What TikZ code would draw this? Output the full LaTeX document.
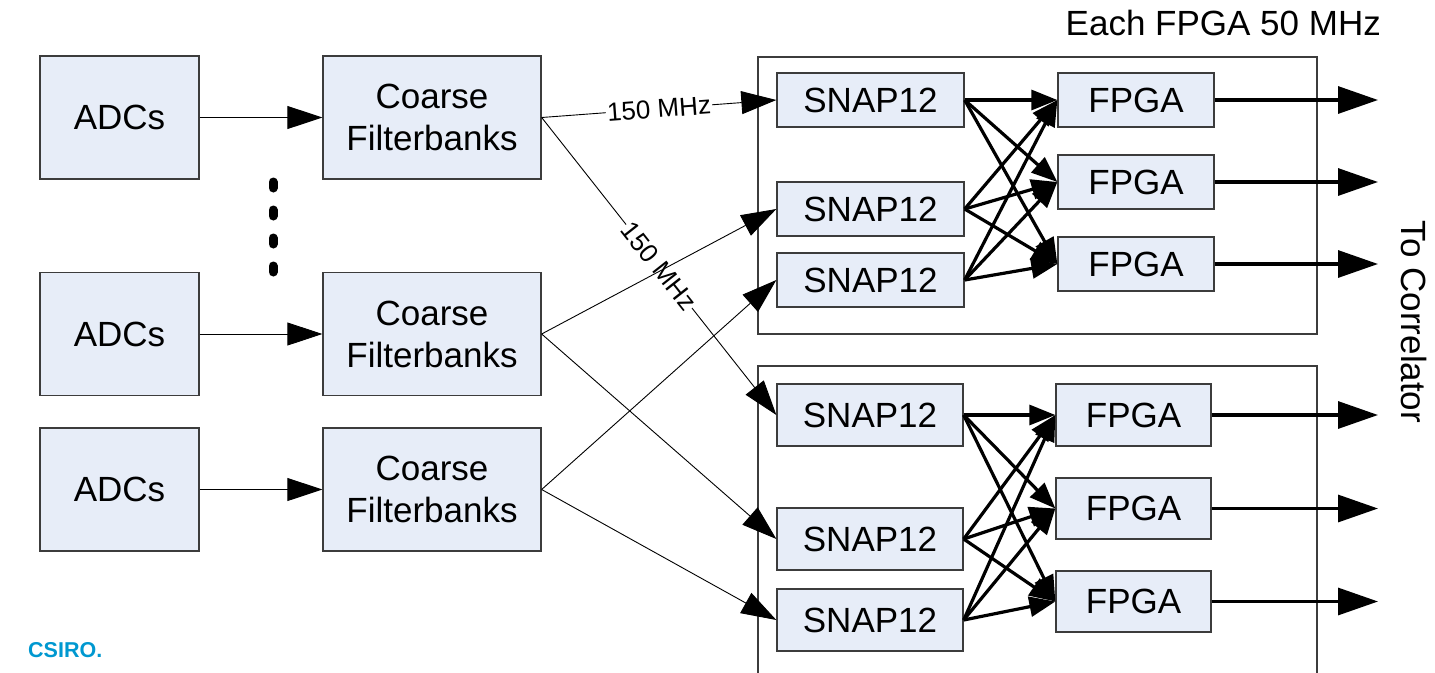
\documentclass[tikz,border=0pt]{standalone}
\usepackage{fontspec}
\setmainfont{Liberation Sans}
\usetikzlibrary{arrows.meta}
\definecolor{boxfill}{RGB}{231,237,248}
\definecolor{boxline}{RGB}{60,60,60}
\definecolor{csiro}{RGB}{0,152,208}
\tikzset{
  blk/.style={draw=boxline, line width=1.3pt, fill=boxfill, align=center, inner sep=0pt,
    font=\fontsize{35}{42}\selectfont},
  thinarr/.style={line width=0.9pt, -{Triangle[length=35pt,width=23pt]}},
  thickarr/.style={line width=3.2pt, -{Triangle[length=26pt,width=20pt]}},
  outarr/.style={line width=3.2pt, -{Triangle[length=40pt,width=27pt]}},
  mhz/.style={fill=white, inner sep=1pt, sloped, font=\fontsize{26}{30}\selectfont},
  grp/.style={draw=boxline, line width=1.3pt}
}
\begin{document}
\begin{tikzpicture}[x=1pt,y=-1pt]
\useasboundingbox (0,0) rectangle (1435,672);
% group frames
\draw[grp] (758,57) rectangle (1317,334);
\draw[grp] (758,680) -- (758,366) -- (1317,366) -- (1317,680);
% left column
\node[blk, minimum width=159pt, minimum height=123pt] (adc1) at (119.5,117.5) {ADCs};
\node[blk, minimum width=159pt, minimum height=123pt] (adc2) at (119.5,334) {ADCs};
\node[blk, minimum width=159pt, minimum height=123pt] (adc3) at (119.5,489.5) {ADCs};
\node[blk, minimum width=218pt, minimum height=123pt] (cf1) at (432,117.5) {Coarse\\Filterbanks};
\node[blk, minimum width=218pt, minimum height=123pt] (cf2) at (432,334) {Coarse\\Filterbanks};
\node[blk, minimum width=218pt, minimum height=123pt] (cf3) at (432,489.5) {Coarse\\Filterbanks};
% SNAP12 upper
\node[blk, minimum width=187pt, minimum height=54pt] (s1) at (870.5,100) {SNAP12};
\node[blk, minimum width=187pt, minimum height=54pt] (s2) at (870.5,209) {SNAP12};
\node[blk, minimum width=187pt, minimum height=54pt] (s3) at (870.5,280) {SNAP12};
% SNAP12 lower
\node[blk, minimum width=186pt, minimum height=62pt] (s4) at (870,415) {SNAP12};
\node[blk, minimum width=186pt, minimum height=62pt] (s5) at (870,539) {SNAP12};
\node[blk, minimum width=186pt, minimum height=62pt] (s6) at (870,620) {SNAP12};
% FPGA upper
\node[blk, minimum width=156pt, minimum height=54pt] (f1) at (1136,100) {FPGA};
\node[blk, minimum width=156pt, minimum height=54pt] (f2) at (1136,182) {FPGA};
\node[blk, minimum width=156pt, minimum height=54pt] (f3) at (1136,264) {FPGA};
% FPGA lower
\node[blk, minimum width=155pt, minimum height=62pt] (f4) at (1133.5,415) {FPGA};
\node[blk, minimum width=155pt, minimum height=61pt] (f5) at (1133.5,508.5) {FPGA};
\node[blk, minimum width=155pt, minimum height=61pt] (f6) at (1133.5,601.5) {FPGA};
% dots
\draw[line width=9pt, line cap=round, dash pattern=on 6pt off 22pt] (273,182) -- (273,273);
% ADC -> CF
\draw[thinarr] (adc1.east) -- (cf1.west);
\draw[thinarr] (adc2.east) -- (cf2.west);
\draw[thinarr] (adc3.east) -- (cf3.west);
% CF -> SNAP
\draw[thinarr] (cf1.east) -- node[mhz] (l1) {150 MHz} (s1.west);
\draw[thinarr] (cf1.east) -- node[mhz] (l2) {150 MHz} (s4.west);
\draw[thinarr] (cf2.east) -- (s2.west);
\draw[thinarr] (cf2.east) -- (s5.west);
\draw[thinarr] (cf3.east) -- (s3.west);
\draw[thinarr] (cf3.east) -- (s6.west);
% SNAP -> FPGA
\foreach \s in {s1,s2,s3} \foreach \f in {f1,f2,f3} \draw[thickarr] (\s.east) -- (\f.west);
\foreach \s in {s4,s5,s6} \foreach \f in {f4,f5,f6} \draw[thickarr] (\s.east) -- (\f.west);
% outputs
\foreach \f/\y in {f1/100,f2/182,f3/264,f4/415,f5/508.5,f6/601.5} {
  \coordinate (o\f) at (1378,\y);
  \draw[outarr] (\f.east) -- (o\f);
}
% texts
\node[anchor=base east, inner sep=0pt, font=\fontsize{35}{42}\selectfont] (title) at (1381,35) {Each FPGA 50 MHz};
\node[rotate=-90, inner sep=0pt, font=\fontsize{35}{42}\selectfont] (corr) at (1414,322) {To Correlator};
\node[anchor=base west, inner sep=0pt, text=csiro, font=\fontsize{21.5}{26}\selectfont\bfseries] (logo) at (28,657) {CSIRO.};
\end{tikzpicture}
\end{document}
